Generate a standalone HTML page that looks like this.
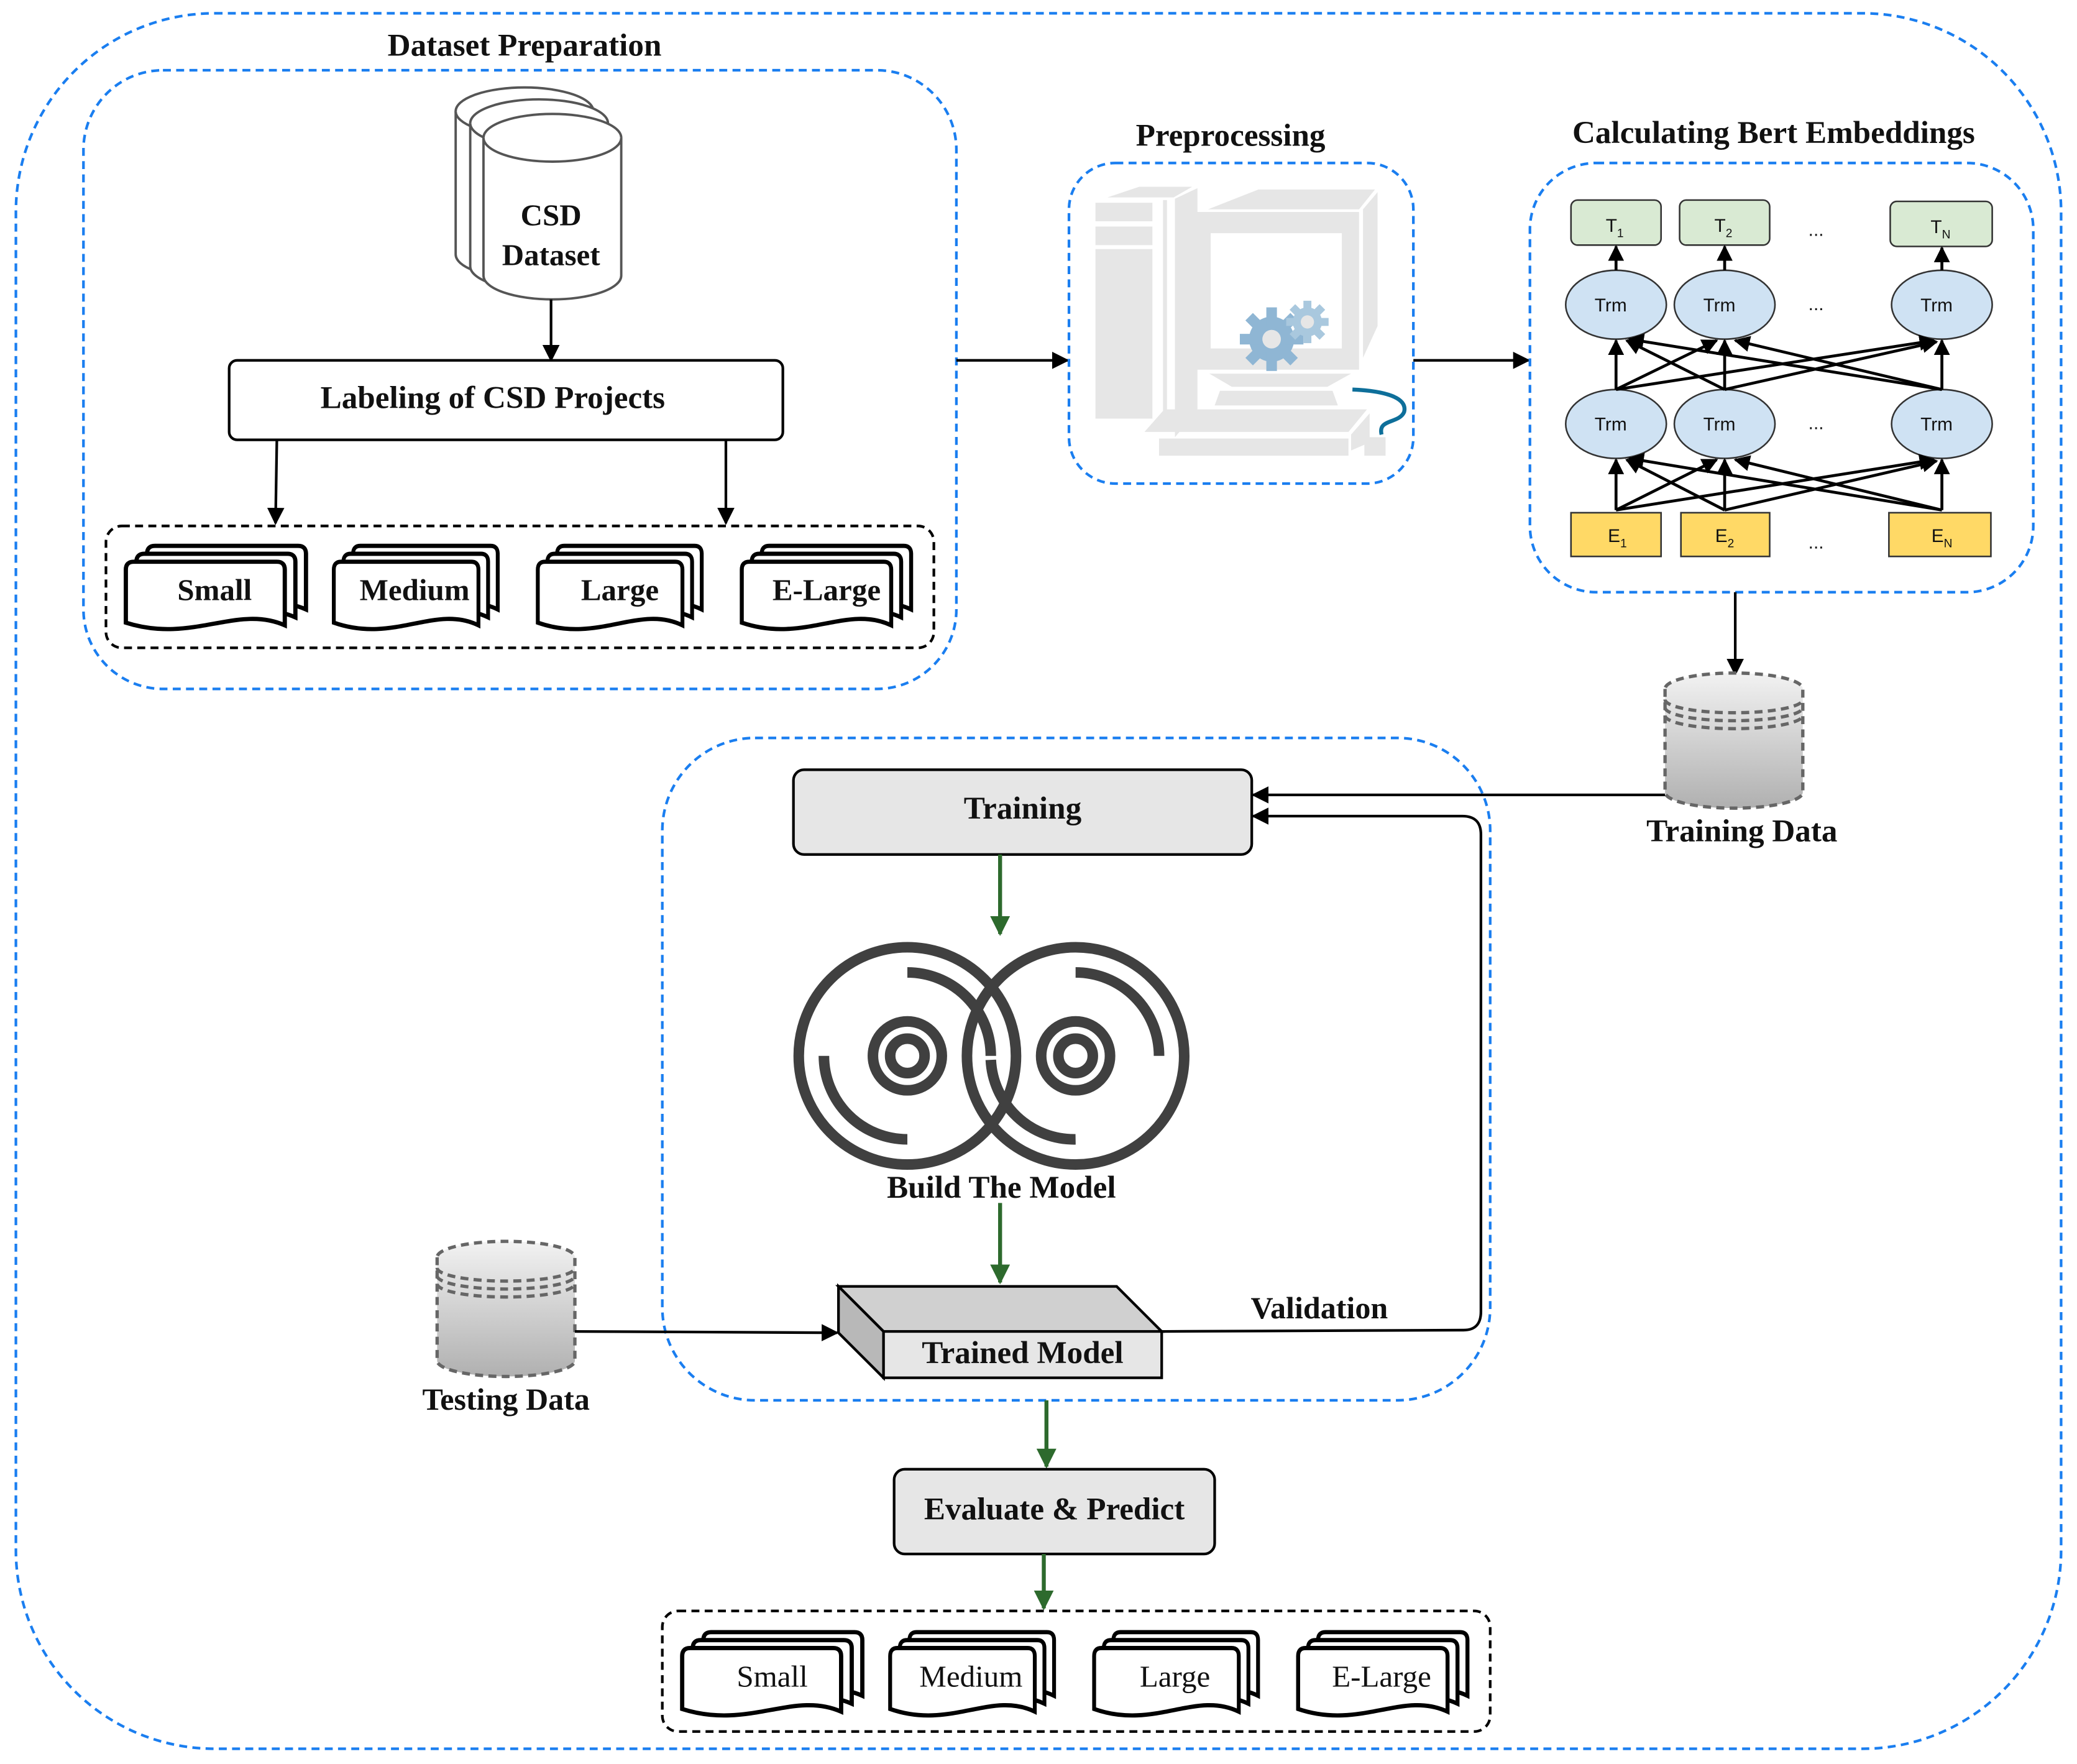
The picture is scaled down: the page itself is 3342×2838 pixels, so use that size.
<!DOCTYPE html>
<html><head><meta charset="utf-8"><style>
html,body{margin:0;padding:0;background:#fff;}
svg{display:block;}
.t{font-family:"Liberation Serif",serif;font-weight:bold;fill:#111;}
.n{font-family:"Liberation Serif",serif;fill:#111;}
.s{font-family:"Liberation Sans",sans-serif;fill:#111;font-size:14px;}
</style></head><body>
<svg width="3342" height="2838" viewBox="0 0 1568 1331.5" xmlns="http://www.w3.org/2000/svg">
<defs>
<marker id="ab" viewBox="0 0 10 10" refX="9" refY="5" markerWidth="6.5" markerHeight="6.5" orient="auto"><path d="M0,0 L10,5 L0,10 z" fill="#000"/></marker>
<marker id="ag" viewBox="0 0 10 10" refX="9" refY="5" markerWidth="5" markerHeight="5" orient="auto"><path d="M0,0 L10,5 L0,10 z" fill="#2d6a2d"/></marker>
<marker id="as" viewBox="0 0 10 10" refX="9" refY="5" markerWidth="5.5" markerHeight="5.5" orient="auto"><path d="M0,0 L10,5 L0,10 z" fill="#000"/></marker>
<linearGradient id="cg" x1="0" y1="0" x2="0" y2="1"><stop offset="0" stop-color="#f2f2f2"/><stop offset="1" stop-color="#b0b0b0"/></linearGradient>
<g id="page"><path d="M0,46 L0,6 Q0,0 6,0 L114,0 Q120,0 120,6 L120,48 C84,32 50,62 0,46 Z" fill="#fff" stroke="#000" stroke-width="3.2"/></g>
<g id="doc"><use href="#page" x="16" y="-12"/><use href="#page" x="8" y="-6"/><use href="#page" x="0" y="0"/></g>
<g id="cyl">
<path d="M0,12 L0,90 A52,12 0 0 0 104,90 L104,12 A52,12 0 0 0 0,12 Z" fill="url(#cg)" stroke="#666" stroke-width="2.5" stroke-dasharray="6,4"/>
<path d="M0,20 A52,10 0 0 0 104,20 M0,26 A52,10 0 0 0 104,26 M0,32 A52,10 0 0 0 104,32" fill="none" stroke="#666" stroke-width="2.5" stroke-dasharray="6,4"/>
</g>
</defs>

<rect x="12" y="10" width="1544" height="1310" rx="150" fill="none" stroke="#1a7ef0" stroke-width="2" stroke-dasharray="6,4"/>

<text class="t" x="396" y="42" font-size="24" text-anchor="middle">Dataset Preparation</text>
<rect x="63" y="53" width="659" height="467" rx="60" fill="none" stroke="#1a7ef0" stroke-width="2" stroke-dasharray="6,4"/>
<g fill="#fff" stroke="#555" stroke-width="1.8">
<path d="M344,84 L344,192 A52,18 0 0 0 448,192 L448,84 A52,18 0 0 0 344,84 Z"/><path d="M344,84 A52,18 0 0 0 448,84"/>
<path d="M355,93 L355,201 A52,18 0 0 0 459,201 L459,93 A52,18 0 0 0 355,93 Z"/><path d="M355,93 A52,18 0 0 0 459,93"/>
<path d="M365,104 L365,208 A52,18 0 0 0 469,208 L469,104 A52,18 0 0 0 365,104 Z"/><path d="M365,104 A52,18 0 0 0 469,104"/>
</g>
<text class="t" x="416" y="170" font-size="23" text-anchor="middle" fill="#333">CSD</text>
<text class="t" x="416" y="200" font-size="23" text-anchor="middle" fill="#333">Dataset</text>
<line x1="416" y1="226" x2="416" y2="272" stroke="#000" stroke-width="2" marker-end="url(#ab)"/>
<rect x="173" y="272" width="418" height="60" rx="6" fill="#fff" stroke="#000" stroke-width="2"/>
<text class="t" x="372" y="308" font-size="24" text-anchor="middle">Labeling of CSD Projects</text>
<line x1="209" y1="332" x2="208" y2="395" stroke="#000" stroke-width="2" marker-end="url(#ab)"/>
<line x1="548" y1="332" x2="548" y2="395" stroke="#000" stroke-width="2" marker-end="url(#ab)"/>
<rect x="80" y="397" width="625" height="92" rx="12" fill="none" stroke="#000" stroke-width="2" stroke-dasharray="6,4"/>
<use href="#doc" transform="translate(95,424)"/>
<use href="#doc" transform="translate(252,424) scale(0.91,1)"/>
<use href="#doc" transform="translate(406,424) scale(0.91,1)"/>
<use href="#doc" transform="translate(560,424) scale(0.94,1)"/>
<text class="t" x="162" y="453" font-size="23" text-anchor="middle">Small</text>
<text class="t" x="313" y="453" font-size="23" text-anchor="middle">Medium</text>
<text class="t" x="468" y="453" font-size="23" text-anchor="middle">Large</text>
<text class="t" x="624" y="453" font-size="23" text-anchor="middle">E-Large</text>

<line x1="722" y1="272" x2="806" y2="272" stroke="#000" stroke-width="2" marker-end="url(#ab)"/>
<text class="t" x="929" y="110" font-size="24" text-anchor="middle">Preprocessing</text>
<rect x="807" y="123" width="260" height="242" rx="35" fill="none" stroke="#1a7ef0" stroke-width="2" stroke-dasharray="6,4"/>
<g fill="#e6e6e6">
<polygon points="836,149 860,141 900,141 886,149"/>
<rect x="827" y="153" width="43" height="14"/><rect x="827" y="171" width="43" height="14"/><rect x="827" y="188" width="43" height="128"/>
<rect x="878" y="151" width="3" height="165"/>
<polygon points="887,150 904,142 904,310 887,330"/>
<polygon points="912,158 950,143 1038,143 1026,158"/>
<path d="M899,160 L1026,160 L1026,279 L899,279 Z M914,176 L914,263 L1013,263 L1013,176 Z" fill-rule="evenodd"/>
<polygon points="1029,158 1040,145 1040,246 1029,270"/>
<polygon points="913,282 1020,282 1002,292 930,292"/>
<polygon points="921,295 1006,295 1010,306 917,306"/>
<polygon points="879,309 1032,309 1018,326 864,326"/>
<rect x="875" y="331" width="143" height="13"/>
<polygon points="1020,328 1034,312 1034,334 1020,340"/>
<rect x="1030" y="330" width="16" height="14"/>
</g>
<path d="M1021,294 C1045,295 1063,300 1060,311 C1056,320 1040,316 1043,328" fill="none" stroke="#0e6f9a" stroke-width="3"/>
<g transform="translate(960,256)">
<circle r="17" fill="#8fb6d4"/>
<g fill="#8fb6d4"><rect x="-4" y="-24" width="8" height="48"/><rect x="-24" y="-4" width="48" height="8"/><rect x="-4" y="-24" width="8" height="48" transform="rotate(45)"/><rect x="-4" y="-24" width="8" height="48" transform="rotate(-45)"/></g>
<circle r="7" fill="#e6e6e6"/>
</g>
<g transform="translate(987,243)">
<circle r="11" fill="#a9c8de"/>
<g fill="#a9c8de"><rect x="-3" y="-16" width="6" height="32"/><rect x="-16" y="-3" width="32" height="6"/><rect x="-3" y="-16" width="6" height="32" transform="rotate(45)"/><rect x="-3" y="-16" width="6" height="32" transform="rotate(-45)"/></g>
<circle r="5" fill="#e6e6e6"/>
</g>
<line x1="1067" y1="272" x2="1154" y2="272" stroke="#000" stroke-width="2" marker-end="url(#ab)"/>

<text class="t" x="1339" y="108" font-size="24" text-anchor="middle">Calculating Bert Embeddings</text>
<rect x="1155" y="123" width="380" height="324" rx="50" fill="none" stroke="#1a7ef0" stroke-width="2" stroke-dasharray="6,4"/>
<g stroke="#333" stroke-width="1.2">
<rect x="1186" y="151" width="68" height="34" rx="5" fill="#d9ead3"/>
<rect x="1268" y="151" width="68" height="34" rx="5" fill="#d9ead3"/>
<rect x="1427" y="152" width="77" height="34" rx="5" fill="#d9ead3"/>
<ellipse cx="1220" cy="230" rx="38" ry="26" fill="#cfe2f3"/>
<ellipse cx="1302" cy="230" rx="38" ry="26" fill="#cfe2f3"/>
<ellipse cx="1466" cy="230" rx="38" ry="26" fill="#cfe2f3"/>
<ellipse cx="1220" cy="320" rx="38" ry="26" fill="#cfe2f3"/>
<ellipse cx="1302" cy="320" rx="38" ry="26" fill="#cfe2f3"/>
<ellipse cx="1466" cy="320" rx="38" ry="26" fill="#cfe2f3"/>
<rect x="1186" y="387" width="68" height="33" fill="#ffd966"/>
<rect x="1269" y="387" width="67" height="33" fill="#ffd966"/>
<rect x="1426" y="387" width="77" height="33" fill="#ffd966"/>
</g>
<g stroke="#000" stroke-width="2.2" fill="none" marker-end="url(#as)">
<line x1="1220" y1="204" x2="1220" y2="186"/><line x1="1302" y1="204" x2="1302" y2="186"/><line x1="1466" y1="204" x2="1466" y2="187"/>
<line x1="1220" y1="294" x2="1220" y2="257"/><line x1="1220" y1="294" x2="1296" y2="257"/><line x1="1220" y1="294" x2="1460" y2="257"/>
<line x1="1302" y1="294" x2="1228" y2="257"/><line x1="1302" y1="294" x2="1302" y2="257"/><line x1="1302" y1="294" x2="1462" y2="258"/>
<line x1="1466" y1="294" x2="1230" y2="256"/><line x1="1466" y1="294" x2="1310" y2="257"/><line x1="1466" y1="294" x2="1466" y2="257"/>
<line x1="1220" y1="385" x2="1220" y2="347"/><line x1="1220" y1="385" x2="1296" y2="347"/><line x1="1220" y1="385" x2="1460" y2="347"/>
<line x1="1302" y1="385" x2="1228" y2="347"/><line x1="1302" y1="385" x2="1302" y2="347"/><line x1="1302" y1="385" x2="1462" y2="348"/>
<line x1="1466" y1="385" x2="1230" y2="346"/><line x1="1466" y1="385" x2="1310" y2="347"/><line x1="1466" y1="385" x2="1466" y2="347"/>
</g>
<text class="s" x="1219" y="175" text-anchor="middle">T<tspan font-size="9" dy="4">1</tspan></text>
<text class="s" x="1301" y="175" text-anchor="middle">T<tspan font-size="9" dy="4">2</tspan></text>
<text class="s" x="1465" y="176" text-anchor="middle">T<tspan font-size="9" dy="4">N</tspan></text>
<text class="s" x="1216" y="235" text-anchor="middle">Trm</text><text class="s" x="1298" y="235" text-anchor="middle">Trm</text><text class="s" x="1462" y="235" text-anchor="middle">Trm</text>
<text class="s" x="1216" y="325" text-anchor="middle">Trm</text><text class="s" x="1298" y="325" text-anchor="middle">Trm</text><text class="s" x="1462" y="325" text-anchor="middle">Trm</text>
<text class="s" x="1221" y="409" text-anchor="middle">E<tspan font-size="9" dy="4">1</tspan></text>
<text class="s" x="1302" y="409" text-anchor="middle">E<tspan font-size="9" dy="4">2</tspan></text>
<text class="s" x="1466" y="409" text-anchor="middle">E<tspan font-size="9" dy="4">N</tspan></text>
<text class="s" x="1371" y="178" text-anchor="middle">...</text>
<text class="s" x="1371" y="234" text-anchor="middle">...</text>
<text class="s" x="1371" y="324" text-anchor="middle">...</text>
<text class="s" x="1371" y="414" text-anchor="middle">...</text>
<line x1="1310" y1="447" x2="1310" y2="509" stroke="#000" stroke-width="2" marker-end="url(#ab)"/>

<use href="#cyl" transform="translate(1257,508)"/>
<text class="t" x="1315" y="635" font-size="24" text-anchor="middle">Training Data</text>

<rect x="500" y="557" width="625" height="500" rx="70" fill="none" stroke="#1a7ef0" stroke-width="2" stroke-dasharray="6,4"/>
<rect x="599" y="581" width="346" height="64" rx="8" fill="#e6e6e6" stroke="#000" stroke-width="2"/>
<text class="t" x="772" y="618" font-size="24" text-anchor="middle">Training</text>
<line x1="1257" y1="600" x2="946" y2="600" stroke="#000" stroke-width="2" marker-end="url(#ab)"/>
<path d="M877,1005 L1105,1004 Q1118,1004 1118,990 L1118,630 Q1118,616 1104,616 L946,616" fill="none" stroke="#000" stroke-width="2" marker-end="url(#ab)"/>
<line x1="755" y1="645" x2="755" y2="705" stroke="#2d6a2d" stroke-width="3" marker-end="url(#ag)"/>
<g fill="none" stroke="#404040" stroke-width="8">
<circle cx="685" cy="797" r="82"/>
<circle cx="812" cy="797" r="82"/>
<circle cx="685" cy="797" r="26"/><circle cx="685" cy="797" r="13"/>
<circle cx="812" cy="797" r="26"/><circle cx="812" cy="797" r="13"/>
<path d="M622,797 A63,63 0 0 0 685,860"/>
<path d="M748,800 A63,63 0 0 0 812,860"/>
<path d="M685,734 A63,63 0 0 1 748,797"/>
<path d="M812,734 A63,63 0 0 1 875,797"/>
</g>
<text class="t" x="756" y="904" font-size="24" text-anchor="middle">Build The Model</text>
<line x1="755" y1="908" x2="755" y2="968" stroke="#2d6a2d" stroke-width="3" marker-end="url(#ag)"/>
<g stroke="#000" stroke-width="2">
<polygon points="633,971 843,971 877,1005 667,1005" fill="#d0d0d0"/>
<polygon points="633,971 667,1005 667,1040 633,1006" fill="#b8b8b8"/>
<rect x="667" y="1005" width="210" height="35" fill="#e6e6e6"/>
</g>
<text class="t" x="772" y="1029" font-size="24" text-anchor="middle">Trained Model</text>
<text class="t" x="996" y="995" font-size="23.5" text-anchor="middle">Validation</text>

<use href="#cyl" transform="translate(330,937)"/>
<text class="t" x="382" y="1064" font-size="23.5" text-anchor="middle">Testing Data</text>
<line x1="434" y1="1005" x2="632" y2="1006" stroke="#000" stroke-width="2" marker-end="url(#ab)"/>

<line x1="790" y1="1057" x2="790" y2="1107" stroke="#2d6a2d" stroke-width="3" marker-end="url(#ag)"/>
<rect x="675" y="1109" width="242" height="64" rx="8" fill="#e6e6e6" stroke="#000" stroke-width="2"/>
<text class="t" x="796" y="1147" font-size="24" text-anchor="middle">Evaluate &amp; Predict</text>
<line x1="788" y1="1173" x2="788" y2="1214" stroke="#2d6a2d" stroke-width="3" marker-end="url(#ag)"/>

<rect x="500" y="1216" width="625" height="91" rx="12" fill="none" stroke="#000" stroke-width="2" stroke-dasharray="6,4"/>
<use href="#doc" transform="translate(515,1244)"/>
<use href="#doc" transform="translate(672,1244) scale(0.91,1)"/>
<use href="#doc" transform="translate(826,1244) scale(0.91,1)"/>
<use href="#doc" transform="translate(980,1244) scale(0.94,1)"/>
<text class="n" x="583" y="1273" font-size="23" text-anchor="middle">Small</text>
<text class="n" x="733" y="1273" font-size="23" text-anchor="middle">Medium</text>
<text class="n" x="887" y="1273" font-size="23" text-anchor="middle">Large</text>
<text class="n" x="1043" y="1273" font-size="23" text-anchor="middle">E-Large</text>
</svg>
</body></html>
